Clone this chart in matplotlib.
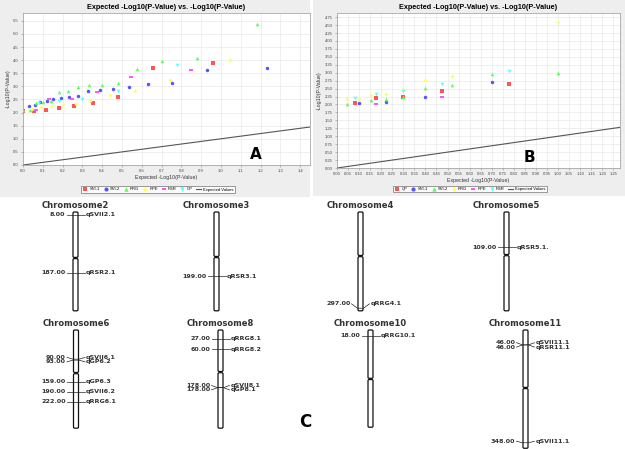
import numpy as np
import matplotlib.pyplot as plt
from matplotlib.patches import Rectangle, FancyBboxPatch
from matplotlib.path import Path

# ---------------- panel A data ----------------
a_names = ['SVI-1', 'SVI-2', 'RRG', 'RPE', 'RSR', 'GP']
a_x = [
    [0.0, 0.054, 0.114, 0.18, 0.26, 0.355, 0.48, 0.657, 0.958],
    [0.03, 0.06, 0.088, 0.12, 0.153, 0.19, 0.233, 0.28, 0.33, 0.39, 0.456,
     0.534, 0.631, 0.755, 0.932, 1.233],
    [0.0, 0.037, 0.068, 0.10, 0.14, 0.18, 0.226, 0.277, 0.333, 0.40, 0.48,
     0.577, 0.70, 0.88, 1.18],
    [0.046, 0.092, 0.14, 0.20, 0.27, 0.34, 0.44, 0.566, 0.745, 1.044],
    [0.068, 0.133, 0.25, 0.374, 0.547, 0.847],
    [0.082, 0.18, 0.30, 0.48, 0.78],
]
a_y = [
    [2.05, 2.05, 2.10, 2.19, 2.27, 2.36, 2.61, 3.70, 3.89],
    [2.26, 2.28, 2.42, 2.45, 2.51, 2.55, 2.61, 2.65, 2.84, 2.85, 2.90,
     2.97, 3.08, 3.13, 3.63, 3.71],
    [2.10, 2.10, 2.36, 2.41, 2.46, 2.80, 2.84, 2.97, 3.04, 3.07, 3.14,
     3.67, 3.97, 4.09, 5.37],
    [2.15, 2.23, 2.24, 2.28, 2.33, 2.46, 2.69, 2.84, 3.23, 4.00],
    [2.09, 2.51, 2.51, 2.78, 3.36, 3.64],
    [2.36, 2.45, 2.51, 2.81, 3.80],
]

# ---------------- panel B data ----------------
b_names = ['QP', 'SVI-1', 'SVI-2', 'RRG', 'RPE', 'RSR']
b_x = [
    [0.08, 0.175, 0.30, 0.477, 0.778],
    [0.098, 0.22, 0.40, 0.70],
    [0.045, 0.155, 0.22, 0.30, 0.40, 0.52, 0.70, 1.0],
    [0.045, 0.098, 0.155, 0.22, 0.30, 0.40, 0.52, 1.0],
    [0.175, 0.477],
    [0.08, 0.175, 0.30, 0.477, 0.778],
]
b_y = [
    [2.04, 2.20, 2.25, 2.43, 2.65],
    [2.06, 2.08, 2.25, 2.71],
    [2.03, 2.13, 2.16, 2.23, 2.53, 2.62, 2.95, 2.99],
    [2.17, 2.16, 2.30, 2.32, 2.49, 2.76, 2.89, 4.59],
    [2.02, 2.25],
    [2.21, 2.33, 2.44, 2.63, 3.06],
]

# ---------------- panel C data (cM) ----------------
chr_names = ['Chromosome2', 'Chromosome3', 'Chromosome4', 'Chromosome5',
             'Chromosome6', 'Chromosome8', 'Chromosome10', 'Chromosome11']
chr_length = [305, 305, 305, 305, 303, 303, 300, 365]
chr_centromere = [142, 139, 136, 133, 133, 130, 151, 179]
qtl_pos = [
    [8.00, 187.00],
    [199.00],
    [297.00],
    [109.00],
    [90.00, 93.00, 159.00, 190.00, 222.00],
    [27.00, 60.00, 178.00, 178.00],
    [18.00],
    [46.00, 46.00, 348.00],
]
qtl_names = [
    ['qSVII2.1', 'qRSR2.1'],
    ['qRSR3.1'],
    ['qRRG4.1'],
    ['qRSR5.1.'],
    ['qSVII6.1', 'qGP6.2', 'qGP6.3', 'qSVII6.2', 'qRRG6.1'],
    ['qRRG8.1', 'qRRG8.2', 'qSVII8.1', 'qGP8.1'],
    ['qRRG10.1'],
    ['qSVII11.1', 'qRSR11.1', 'qSVII11.1'],
]

# JFreeChart default look
colors = ['#ff5555', '#5555ff', '#55ff55', '#ffff55', '#ff55ff', '#55ffff']
hrect = Path([(-1, -0.5), (1, -0.5), (1, 0.5), (-1, 0.5), (-1, -0.5)],
             [Path.MOVETO, Path.LINETO, Path.LINETO, Path.LINETO, Path.CLOSEPOLY])
markers = ['s', 'o', '^', 'D', hrect, 'v']
msizes = [2.2, 2.5, 2.6, 2.0, 3.0, 2.6]

W, H = 625, 449
fig = plt.figure(figsize=(W / 100, H / 100), dpi=100)
fig.patch.set_facecolor('white')

# grey chart backgrounds
fig.add_artist(Rectangle((0, 1 - 197 / H), 310 / W, 197 / H, transform=fig.transFigure,
                         facecolor='#eeeeee', edgecolor='none', zorder=-5))
fig.add_artist(Rectangle((313 / W, 1 - 196 / H), 312 / W, 196 / H, transform=fig.transFigure,
                         facecolor='#eeeeee', edgecolor='none', zorder=-5))

tfont = dict(family=['Liberation Sans', 'DejaVu Sans'])


def scatter_panel(rect, names, xs, ys, xlim, ylim, xticks, yticks, fmt, letter, letter_xy, leg_center):
    ax = fig.add_axes(rect)
    ax.set_facecolor('white')
    for i, name in enumerate(names):
        ax.plot(xs[i], ys[i], linestyle='none', marker=markers[i], markersize=msizes[i],
                color=colors[i], markeredgewidth=0, label=name, zorder=3)
    ax.axline((0, 0), slope=1, color='#555555', lw=0.8, label='Expected Values', zorder=2)
    ax.set_xlim(*xlim)
    ax.set_ylim(*ylim)
    ax.set_xticks(xticks)
    ax.set_yticks(yticks)
    ax.set_xticklabels([fmt % v for v in xticks], **tfont)
    ax.set_yticklabels([fmt % v for v in yticks], **tfont)
    ax.tick_params(labelsize=3, length=1.5, width=0.4, color='#888888',
                   labelcolor='#444444', pad=1.5)
    ax.grid(True, color='#e4e4e4', lw=0.4)
    for s in ax.spines.values():
        s.set_color('#999999')
        s.set_linewidth(0.5)
    ax.set_title('Expected -Log10(P-Value) vs. -Log10(P-Value)', fontsize=5.2,
                 fontweight='bold', pad=3, **tfont)
    ax.set_xlabel('Expected -Log10(P-Value)', fontsize=3.8, labelpad=1.5, color='#333333', **tfont)
    ax.set_ylabel('-Log10(P-Value)', fontsize=3.8, labelpad=2, color='#333333', **tfont)
    ax.text(letter_xy[0], letter_xy[1], letter, transform=ax.transAxes, fontsize=11,
            fontweight='bold', ha='center', va='center', family='DejaVu Sans')
    leg = fig.legend(*ax.get_legend_handles_labels(), loc='center',
                     bbox_to_anchor=leg_center, ncol=7, frameon=True,
                     fancybox=False, edgecolor='#555555', handlelength=1.2,
                     handletextpad=0.4, columnspacing=0.8, borderpad=0.35,
                     markerscale=1.2, prop=dict(size=3, family=['Liberation Sans', 'DejaVu Sans']))
    leg.get_frame().set_linewidth(0.5)
    return ax


scatter_panel([23 / W, 1 - 165 / H, 287 / W, 152 / H], a_names, a_x, a_y,
              (0, 1.45), (0, 5.8), np.round(np.arange(0, 1.41, 0.1), 2),
              np.round(np.arange(0, 5.51, 0.5), 2), '%.1f', 'A', (0.81, 0.07),
              (158 / W, 1 - 189.5 / H))
scatter_panel([337 / W, 1 - 168 / H, 283 / W, 155 / H], b_names, b_x, b_y,
              (0, 1.28), (0, 4.88), np.round(np.arange(0, 1.251, 0.05), 2),
              np.round(np.arange(0, 4.751, 0.25), 2), '%.2f', 'B', (0.68, 0.07),
              (470 / W, 1 - 189 / H))

# ---------------- panel C: linkage map ----------------
axc = fig.add_axes([0, 0, 1, 1], zorder=-1)
axc.set_xlim(0, W)
axc.set_ylim(H, 0)
axc.axis('off')
axc.patch.set_alpha(0)

chr_x = [75.5, 216.5, 360.5, 506.5, 76, 220.5, 370.5, 525.5]
chr_top = [212, 212, 212, 212, 330, 330, 330, 330]
scale = 0.324       # px per cM
bar_w = 5
lab_font = dict(fontsize=4.6, fontweight='bold', family='DejaVu Sans', color='#333333')

for k, name in enumerate(chr_names):
    xc, top = chr_x[k], chr_top[k]
    bottom = top + chr_length[k] * scale
    cen = top + chr_centromere[k] * scale
    axc.text(xc, top - 6, name, ha='center', va='center', fontsize=6,
             fontweight='bold', family='DejaVu Sans', color='#333333')
    for y0, y1 in [(top, cen - 0.6), (cen + 0.6, bottom)]:
        axc.add_patch(FancyBboxPatch((xc - bar_w / 2, y0), bar_w, y1 - y0,
                                     boxstyle='round,pad=0,rounding_size=1.2',
                                     facecolor='white', edgecolor='#111111', lw=0.9))
    ty = [top + p * scale for p in qtl_pos[k]]
    ly = list(ty)
    for i in range(1, len(ty)):
        if abs(ty[i] - ty[i - 1]) < 4:
            mid = (ty[i] + ty[i - 1]) / 2
            ly[i - 1] = mid - 2.2
            ly[i] = mid + 2.2
    ly = [min(v, bottom - 7) for v in ly]
    for p, qn, t, l in zip(qtl_pos[k], qtl_names[k], ty, ly):
        axc.plot([xc - 9, xc - 3, xc + 3, xc + 9], [l, t, t, l], color='#222222', lw=0.5)
        axc.text(xc - 10, l, '%.2f' % p, ha='right', va='center', **lab_font)
        axc.text(xc + 10, l, qn, ha='left', va='center', **lab_font)

axc.text(305, 422, 'C', ha='center', va='center', fontsize=12, fontweight='bold',
         family='DejaVu Sans')

fig.savefig('out.png', dpi=100)
